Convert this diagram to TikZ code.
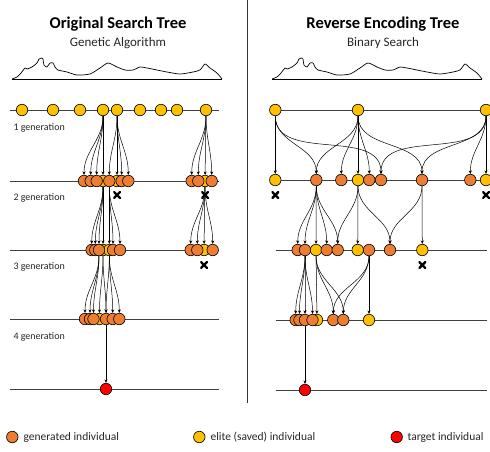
\documentclass[tikz,border=0pt]{standalone}
\usepackage{fontspec}
\setmainfont{Carlito}
\usetikzlibrary{arrows.meta}
\definecolor{genor}{RGB}{237,125,49}
\definecolor{elyel}{RGB}{255,192,0}
\definecolor{tgred}{RGB}{255,0,0}
\begin{document}
\begin{tikzpicture}[x=1pt,y=-1pt,
  ind/.style={circle,draw=black,line width=0.6pt,minimum size=11.5pt,inner sep=0pt},
  gen/.style={ind,fill=genor},
  eli/.style={ind,fill=elyel},
  tgt/.style={ind,fill=tgred},
  edge/.style={line width=0.5pt,-{Stealth[length=3.5pt,width=3pt]}},
  genline/.style={line width=0.8pt,draw=black!75},
  xmark/.style={minimum size=7.5pt,inner sep=0pt,
    path picture={\draw[line width=2.4pt]
      (path picture bounding box.south west) -- (path picture bounding box.north east)
      (path picture bounding box.north west) -- (path picture bounding box.south east);}},
  lbl/.style={font=\fontsize{10}{12}\selectfont,anchor=west,text=black!85},
  leg/.style={font=\fontsize{11.5}{13}\selectfont,anchor=west,text=black!85},
]
\useasboundingbox (0,0) rectangle (490,451);
% titles
\node[font=\bfseries\fontsize{16.5}{18}\selectfont] (t1) at (118,24) {Original Search Tree};
\node[font=\fontsize{13}{15}\selectfont,text=black!85] (s1) at (118,43) {Genetic Algorithm};
\node[font=\bfseries\fontsize{16.5}{18}\selectfont] (t2) at (383,24) {Reverse Encoding Tree};
\node[font=\fontsize{13}{15}\selectfont,text=black!85] (s2) at (383,43) {Binary Search};
% separator
\draw[line width=0.8pt,black!80] (247.5,0) -- (247.5,403);
% landscapes
\foreach \dx in {0,260}{
\begin{scope}[xshift=\dx pt]
\draw[line width=0.8pt] (12,79) -- (222,79);
\draw[line width=0.7pt,line join=round] plot[smooth,tension=0.4] coordinates {(12,79) (17,77) (21,73) (25,68) (27,69) (32,67) (37,63) (39,59) (42,58) (43,59) (44,65) (47,67) (50,63) (53,63) (55,67) (58,70) (67,72) (77,75) (90,74) (100,68) (108,63) (117,67) (125,70) (133,70) (140,67) (147,68) (157,70) (167,72) (180,74) (193,72) (200,70) (205,64) (210,68) (217,73) (222,79)};
\end{scope}}
% generation lines
\foreach \yy in {110,181,250,319,389}{\draw[genline] (10,\yy) -- (219,\yy);}
\draw[genline] (275,110) -- (490,110);
\draw[genline] (275,180) -- (490,180);
\foreach \yy in {250,320,390}{\draw[genline] (275.5,\yy) -- (487,\yy);}
% generation labels
\node[lbl] (g1) at (10,128) {1 generation};
\node[lbl] (g2) at (10,198) {2 generation};
\node[lbl] (g3) at (10,267) {3 generation};
\node[lbl] (g4) at (10,337) {4 generation};

% ---------- left tree ----------
\foreach \n/\x in {a/22,b/53,c/80,d/103,e/117,f/140,g/161,h/177,i/206}{\node[eli] (L1\n) at (\x,110) {};}
\node[eli] (L2d) at (103,181) {};
\node[eli] (L2e) at (117,181) {};
\node[eli] (L2i) at (205,181) {};
\foreach \n/\x in {1/84,2/90.7,3/96.7,4/109.3,5/121.7,6/128.3,7/191.7,8/198.3,9/211.7}{\node[gen] (L2o\n) at (\x,181) {};}
\node[eli] (L3a) at (103,250) {};
\node[eli] (L3b) at (109.3,250) {};
\node[eli] (L3c) at (204,250) {};
\foreach \n/\x in {1/91.7,2/95.3,3/99,4/113,5/120,6/190.7,7/197.3,8/212.7}{\node[gen] (L3o\n) at (\x,250) {};}
\node[eli] (L4y) at (99.5,319) {};
\foreach \n/\x in {1/85,2/90,3/93.5,4/106,5/112.7,6/119.3}{\node[gen] (L4o\n) at (\x,319) {};}
\node[tgt] (L5) at (106,389) {};

% left edges
\foreach \t in {L2o1,L2o2,L2o3}{\draw[edge] (L1d.south) to[out=-90,in=90] (\t.north);}
\draw[edge] (L1d) -- (L2d);
\foreach \t in {L2o4,L2o5,L2o6}{\draw[edge] (L1e.south) to[out=-90,in=90] (\t.north);}
\draw[edge] (L1e) -- (L2e);
\foreach \t in {L2o7,L2o8,L2o9}{\draw[edge] (L1i.south) to[out=-90,in=90] (\t.north);}
\draw[edge] (L1i) -- (L2i);
\foreach \t in {L3o1,L3o2,L3o3}{\draw[edge] (L2d.south) to[out=-90,in=90] (\t.north);}
\draw[edge] (L2d) -- (L3a);
\foreach \t in {L3o4,L3o5}{\draw[edge] (L2o4.south) to[out=-90,in=90] (\t.north);}
\draw[edge] (L2o4) -- (L3b);
\foreach \t in {L3o6,L3o7,L3o8}{\draw[edge] (L2i.south) to[out=-90,in=90] (\t.north);}
\draw[edge] (L2i) -- (L3c);
\foreach \t in {L4o1,L4o2,L4o3}{\draw[edge] (L3o3.south) to[out=-90,in=90] (\t.north);}
\foreach \t in {L4y,L4o4}{\draw[edge] (L3a.south) to[out=-90,in=90] (\t.north);}
\foreach \t in {L4o4,L4o5,L4o6}{\draw[edge] (L3b.south) to[out=-90,in=90] (\t.north);}
\draw[edge] (L4o4) -- (L5);
% left X marks
\node[xmark] (x1) at (117,195) {};
\node[xmark] (x2) at (205,195) {};
\node[xmark] (x3) at (204,265) {};

% ---------- right tree ----------
\node[eli] (RA) at (275.3,110) {};
\node[eli] (RB) at (358,110) {};
\node[eli] (RC) at (486,110) {};
\node[eli] (R2a) at (275.3,180) {};
\node[gen] (R2b) at (316.3,180) {};
\node[gen] (R2c) at (341.3,180) {};
\node[eli] (R2d) at (358,180) {};
\node[gen] (R2e) at (369.3,180) {};
\node[gen] (R2f) at (381,180) {};
\node[gen] (R2g) at (422,180) {};
\node[gen] (R2h) at (470.3,180) {};
\node[eli] (R2i) at (486,180) {};
\node[gen] (R3a) at (297.7,250) {};
\node[gen] (R3b) at (305,250) {};
\node[eli] (R3c) at (316,250) {};
\node[gen] (R3d) at (326.7,250) {};
\node[gen] (R3e) at (337.7,250) {};
\node[eli] (R3f) at (357.7,250) {};
\node[gen] (R3g) at (369,250) {};
\node[gen] (R3h) at (390,250) {};
\node[eli] (R3i) at (422.3,250) {};
\node[eli] (R4y) at (317,320) {};
\node[gen] (R4a) at (295.7,320) {};
\node[gen] (R4b) at (299.5,320) {};
\node[gen] (R4c) at (305,320) {};
\node[gen] (R4d) at (312.5,320) {};
\node[gen] (R4e) at (333.3,320) {};
\node[gen] (R4f) at (343.3,320) {};
\node[eli] (R4g) at (369,320) {};
\node[tgt] (R5) at (305,390) {};

% right edges
\draw[edge] (RA) -- (R2a);
\foreach \t in {R2b,R2f}{\draw[edge] (RA.south) to[out=-90,in=90] (\t.north);}
\draw[edge] (RB) -- (R2d);
\foreach \t in {R2b,R2c,R2e,R2g}{\draw[edge] (RB.south) to[out=-90,in=90] (\t.north);}
\draw[edge] (RC) -- (R2i);
\foreach \t in {R2h,R2f,R2g}{\draw[edge] (RC.south) to[out=-90,in=90] (\t.north);}
\draw[edge] (R2b) -- (R3c);
\foreach \t in {R3a,R3b,R3d,R3e}{\draw[edge] (R2b.south) to[out=-90,in=90] (\t.north);}
\draw[edge] (R2d) -- (R3f);
\foreach \t in {R3e,R3h}{\draw[edge] (R2d.south) to[out=-90,in=90] (\t.north);}
\draw[edge] (R2g) -- (R3i);
\draw[edge] (R2g.south) to[out=-90,in=90] (R3h.north);
\foreach \t in {R4a,R4b,R4c,R4d}{\draw[edge] (R3b.south) to[out=-90,in=90] (\t.north);}
\draw[edge] (R3c) -- (R4y);
\foreach \t in {R4e,R4f}{\draw[edge] (R3c.south) to[out=-90,in=90] (\t.north);}
\draw[edge] (R3g) -- (R4g);
\foreach \t in {R4e,R4f}{\draw[edge] (R3g.south) to[out=-90,in=90] (\t.north);}
\draw[edge] (R4c) -- (R5);
% right X marks
\node[xmark] (x4) at (275.3,195) {};
\node[xmark] (x5) at (486,195) {};
\node[xmark] (x6) at (422.3,265) {};

% legend
\node[gen] (k1) at (12.3,437) {};
\node[leg] (k1t) at (20,437) {generated individual};
\node[eli] (k2) at (199.3,437) {};
\node[leg] (k2t) at (207,437) {elite (saved) individual};
\node[tgt] (k3) at (396.7,437) {};
\node[leg] (k3t) at (404,437) {target individual};
\end{tikzpicture}
\end{document}
